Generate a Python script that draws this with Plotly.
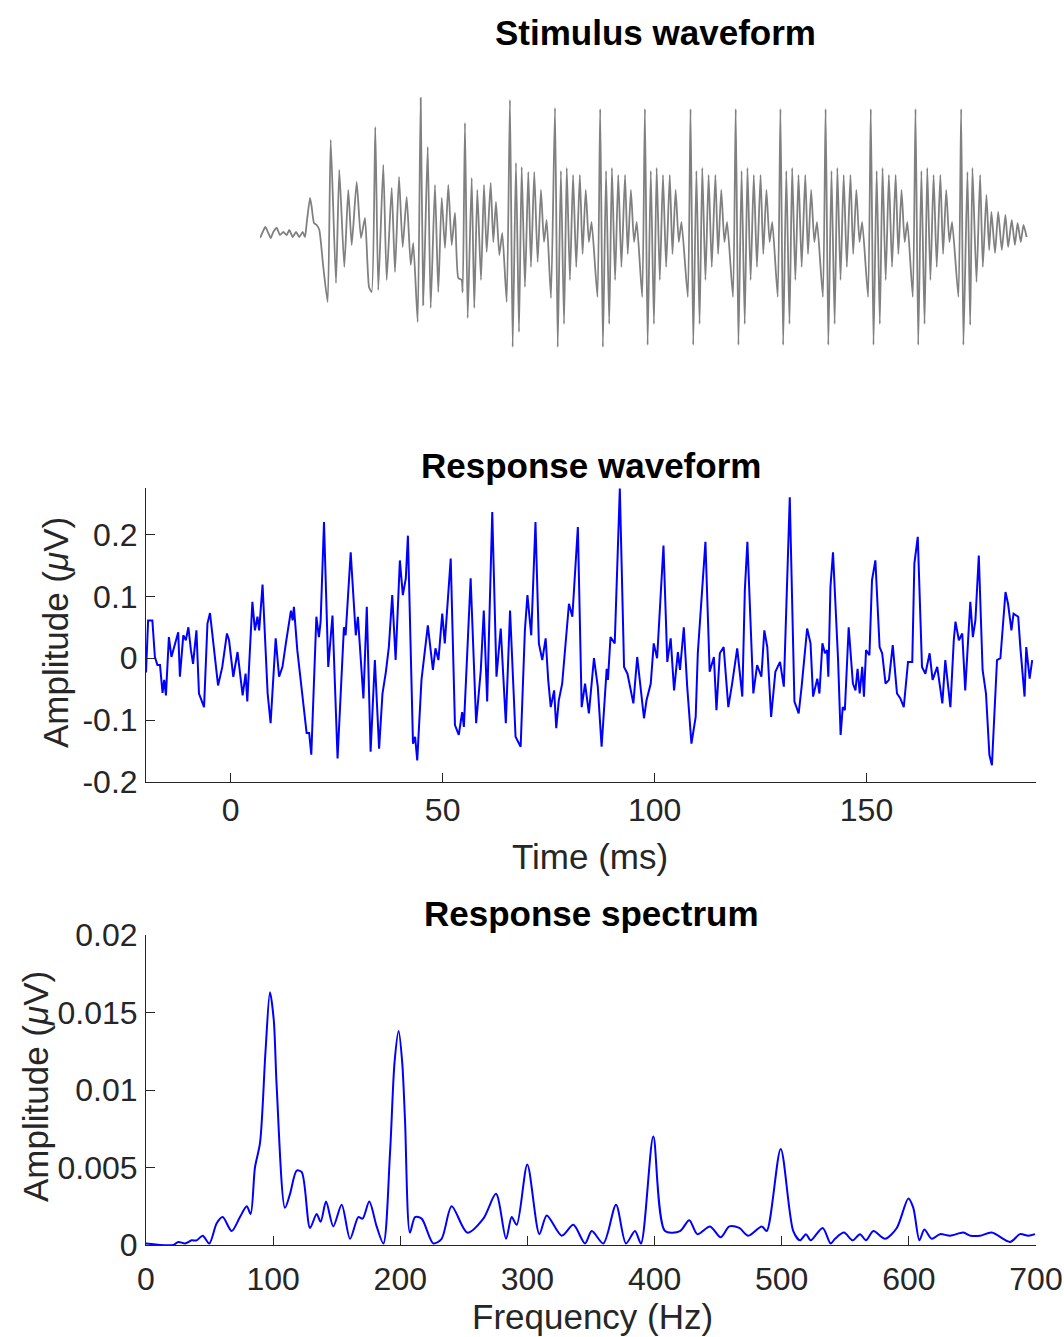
import plotly.graph_objects as go

# ---------------- data ----------------
# Stimulus waveform (time in ms, amplitude in arbitrary units)
stim_t = [0.0, 0.6, 1.17, 1.84, 2.37, 2.94, 3.7, 4.43, 5.16, 5.91, 6.49, 7.24, 7.97, 8.7, 9.45, 9.96,
          10.34, 11.07, 11.44, 11.95, 12.55, 13.13, 14.01, 14.98,
          15.65, 16.82, 17.55, 18.66, 19.54, 20.3, 21.4, 22.35, 23.24, 24.13, 24.72,
          25.52, 26.18, 27.29, 28.04, 29.15, 29.88, 30.77, 31.58, 32.47, 33.36, 33.93, 34.9,
          35.57, 36.14, 37.12, 37.78, 38.73, 39.46, 40.22, 40.95, 41.68, 42.43, 43.16, 43.89, 44.64, 44.87,
          45.37, 45.97, 46.86, 47.43, 48.1, 48.92, 49.58, 50.18, 51.06, 51.64, 52.24, 52.97, 53.63, 54.61,
          55.33, 55.93, 56.66, 57.33, 57.92, 58.65, 59.39, 59.98, 60.71, 61.46, 62.19, 62.86, 63.46, 64.41,
          65.3, 65.9, 66.6, 67.3, 67.9, 68.6, 69.3, 70.0, 70.8, 71.4, 72.1, 72.8, 73.4, 74.7,
          75.3, 75.9, 76.6, 77.3, 77.9, 78.6, 79.3, 80.0, 80.8, 81.4, 82.1, 82.8, 83.4, 84.6,
          85.2, 85.8, 86.5, 87.2, 87.8, 88.5, 89.2, 89.9, 90.7, 91.3, 92.0, 92.7, 93.3, 94.7,
          95.3, 95.9, 96.6, 97.3, 97.9, 98.6, 99.3, 100.0, 100.8, 101.4, 102.1, 102.8, 103.4, 104.7,
          105.3, 105.9, 106.6, 107.3, 107.9, 108.6, 109.3, 110.0, 110.8, 111.4, 112.1, 112.8, 113.4, 114.6,
          115.2, 115.8, 116.5, 117.2, 117.8, 118.5, 119.2, 119.9, 120.7, 121.3, 122.0, 122.7, 123.3, 124.6,
          125.2, 125.8, 126.5, 127.2, 127.8, 128.5, 129.2, 129.9, 130.7, 131.3, 132.0, 132.7, 133.3, 134.6,
          135.2, 135.8, 136.5, 137.2, 137.8, 138.5, 139.2, 139.9, 140.7, 141.3, 142.0, 142.7, 143.3, 144.5,
          145.1, 145.7, 146.4, 147.1, 147.7, 148.4, 149.1, 149.8, 150.6, 151.2, 151.9, 152.6, 153.2, 154.6,
          155.2, 155.7, 156.6, 157.2, 157.7, 158.6, 159.4, 160.0,
          160.8, 161.4, 161.9, 162.7, 163.4, 164.2, 165.0, 165.6, 166.4, 167.1, 167.7, 168.4, 169.0, 169.7]
stim_a = [-0.05, 0.01, 0.06, 0.0, -0.05, 0.01, 0.05, -0.02, 0.01, -0.02, 0.03, -0.04, 0.01, -0.04, 0.01, -0.04,
          0.10, 0.35, 0.26, 0.10, 0.08, 0.03, -0.34, -0.69,
          0.93, -0.50, 0.63, -0.34, 0.43, -0.12, 0.51, -0.05, 0.15, -0.54, -0.59,
          1.06, -0.57, 0.68, -0.47, 0.45, -0.39, 0.56, -0.14, 0.36, -0.32, -0.10, -0.89,
          1.35, -0.72, 0.86, -0.75, 0.48, -0.59, 0.35, -0.15, 0.48, -0.12, 0.20, -0.45, -0.47, -0.59,
          1.10, -0.85, 0.55, -0.75, 0.43, -0.47, 0.48, -0.19, 0.50, -0.09, 0.31, -0.22, 0.0, -0.69,
          1.33, -1.14, 0.70, -0.99, 0.66, -0.54, 0.61, -0.34, 0.61, -0.29, 0.43, -0.09, 0.13, -0.65,
          1.25, -1.14, 0.62, -0.91, 0.65, -0.47, 0.58, -0.34, 0.58, -0.21, 0.43, -0.09, 0.11, -0.64,
          1.24, -1.14, 0.62, -0.91, 0.65, -0.47, 0.58, -0.34, 0.58, -0.21, 0.43, -0.09, 0.11, -0.64,
          1.24, -1.12, 0.62, -0.91, 0.65, -0.47, 0.58, -0.34, 0.58, -0.21, 0.43, -0.09, 0.11, -0.64,
          1.24, -1.12, 0.62, -0.91, 0.65, -0.47, 0.58, -0.34, 0.58, -0.21, 0.43, -0.09, 0.11, -0.64,
          1.24, -1.12, 0.62, -0.91, 0.65, -0.47, 0.58, -0.34, 0.58, -0.21, 0.43, -0.09, 0.11, -0.64,
          1.24, -1.12, 0.62, -0.91, 0.65, -0.47, 0.58, -0.34, 0.58, -0.21, 0.43, -0.09, 0.11, -0.64,
          1.24, -1.12, 0.62, -0.91, 0.65, -0.47, 0.58, -0.34, 0.58, -0.21, 0.43, -0.09, 0.11, -0.64,
          1.24, -1.12, 0.62, -0.91, 0.65, -0.47, 0.58, -0.34, 0.58, -0.21, 0.43, -0.09, 0.11, -0.64,
          1.24, -1.12, 0.62, -0.91, 0.65, -0.47, 0.58, -0.34, 0.58, -0.21, 0.43, -0.09, 0.11, -0.64,
          1.24, -1.12, 0.61, -0.92, 0.65, -0.49, 0.58, -0.34,
          0.38, -0.17, 0.21, -0.20, 0.21, -0.17, 0.18, -0.14, 0.13, -0.12, 0.10, -0.09, 0.08, -0.04]

# Response waveform (time in ms, amplitude in microvolts)
resp_t = [-20.0, -19.5, -18.5, -17.9, -17.3, -16.7, -16.1, -15.7, -15.3, -14.6, -14.0, -13.4, -12.4, -12.0,
          -11.2, -10.6, -10.0, -9.4, -8.9, -8.1, -7.5, -6.3, -5.5, -4.9, -4.3, -3.3, -3.0, -2.0, -0.9, -0.4,
          0.6, 1.6, 2.8, 3.5, 3.9, 5.1, 5.7, 6.3, 6.7, 7.5, 8.7, 9.4, 10.6, 11.4, 12.2, 13.0, 14.2, 14.6,
          14.9, 15.7, 17.3, 17.9, 18.5, 19.0, 20.2, 20.8, 21.2, 22.0, 23.0, 24.0, 25.2, 26.7, 27.1, 28.3,
          28.7, 29.5, 30.0, 31.3, 32.1, 33.0, 34.0, 35.0, 35.8, 36.6, 37.3, 38.1, 38.9, 39.9, 40.6, 41.3,
          41.8, 43.0, 43.5, 44.0, 45.0, 45.8, 46.5, 47.7, 48.3, 49.0, 49.9, 50.5, 51.9, 52.9, 53.8, 54.6,
          55.0, 56.6, 57.9, 59.0, 59.7, 60.5, 61.7, 62.7, 63.7, 64.9, 65.9, 67.2, 68.4, 69.4, 70.0, 70.9,
          71.9, 72.7, 73.5, 74.3, 74.9, 75.5, 76.3, 76.8, 77.4, 78.2, 79.8, 80.6, 81.9, 82.8, 83.6, 84.5,
          85.7, 86.6, 87.5, 88.7, 89.0, 89.6, 90.6, 91.8, 92.8, 93.6, 94.3, 95.0, 95.9, 96.7, 97.5, 98.1,
          99.1, 99.8, 100.6, 102.1, 103.0, 103.8, 104.6, 105.5, 106.0, 106.9, 107.7, 108.7, 109.7, 110.2,
          112.0, 113.0, 114.0, 114.6, 115.4, 116.3, 117.4, 118.3, 119.5, 120.7, 121.3, 121.9, 123.3, 124.2,
          125.2, 125.9, 126.6, 127.5, 128.5, 129.6, 130.5, 131.9, 133.0, 134.0, 134.7, 136.0, 136.8, 137.4,
          138.4, 138.9, 139.6, 140.2, 140.7, 141.0, 141.5, 142.1, 142.7, 143.3, 143.9, 144.4, 144.9, 145.8,
          146.8, 147.4, 147.9, 148.4, 149.0, 149.4, 149.9, 150.7, 151.3, 152.1, 153.1, 153.7, 154.5, 155.3,
          156.2, 156.8, 157.2, 158.0, 158.8, 159.8, 160.8, 161.3, 162.1, 163.1, 163.9, 164.9, 165.6, 166.7,
          167.9, 168.6, 169.8, 170.6, 171.0, 171.8, 172.6, 173.3, 174.5, 175.1, 175.7, 176.5, 177.4, 178.2,
          179.0, 179.6, 180.8, 181.6, 182.8, 183.4, 184.2, 184.7, 185.8, 186.3, 187.3, 187.7, 188.5, 189.1]
resp_v = [-0.023, 0.061, 0.061, 0.002, -0.011, -0.011, -0.056, -0.035, -0.060, 0.034, 0.002, 0.016, 0.042, -0.030,
          0.037, 0.029, 0.050, 0.013, -0.009, 0.045, -0.057, -0.079, 0.056, 0.073, 0.034, -0.035, -0.044, -0.014, 0.040, 0.029,
          -0.030, 0.010, -0.060, -0.025, -0.070, 0.091, 0.045, 0.067, 0.045, 0.119, -0.057, -0.105, 0.032, -0.030, -0.014, 0.024, 0.077, 0.061,
          0.083, 0.013, -0.089, -0.121, -0.121, -0.156, 0.067, 0.034, 0.059, 0.220, -0.014, 0.069, -0.162, 0.050, 0.037, 0.171,
          0.126, 0.037, 0.067, -0.065, 0.083, -0.151, -0.003, -0.146, -0.057, -0.022, 0.018, 0.102, -0.003, 0.158, 0.102, 0.129,
          0.198, -0.138, -0.127, -0.165, -0.035, 0.016, 0.053, -0.019, 0.016, -0.003, 0.072, 0.024, 0.161, -0.108, -0.124, -0.087,
          -0.111, 0.129, -0.105, -0.019, 0.077, -0.070, 0.236, -0.030, 0.048, -0.105, 0.077, -0.127, -0.143, 0.045, 0.102, 0.037,
          0.220, 0.024, -0.003, 0.032, -0.035, -0.079, -0.052, -0.113, -0.068, -0.041, 0.088, 0.067, 0.212, -0.079, -0.041, -0.089,
          0.000, -0.046, -0.143, -0.017, -0.035, 0.034, 0.024, 0.274, -0.014, -0.025, -0.052, -0.073, 0.002, -0.046, -0.097, -0.068,
          -0.041, 0.024, 0.000, 0.182, -0.006, 0.032, -0.052, 0.010, -0.019, 0.050, -0.046, -0.138, -0.095, 0.008,
          0.188, -0.022, 0.002, -0.084, 0.008, 0.018, -0.079, -0.041, 0.016, -0.062, 0.110, 0.188, -0.057, -0.011,
          -0.030, 0.045, 0.018, -0.095, -0.022, -0.006, -0.046, 0.260, -0.070, -0.089, -0.046, 0.048, 0.024, -0.062,
          -0.033, -0.057, 0.024, 0.008, 0.013, -0.030, 0.115, 0.171, 0.083, -0.003, -0.124, -0.079, -0.084, 0.050,
          -0.041, -0.052, -0.017, -0.057, -0.014, -0.062, 0.013, 0.005, 0.126, 0.158, 0.018, 0.008, -0.041, -0.035,
          0.021, -0.035, -0.057, -0.065, -0.079, -0.006, -0.006, 0.153, 0.196, -0.014, -0.025, 0.008, -0.035, -0.014,
          -0.073, -0.003, -0.079, 0.029, 0.059, 0.029, 0.040, -0.052, 0.091, 0.034, 0.061, 0.166, -0.019, -0.057,
          -0.156, -0.173, -0.003, 0.000, 0.107, 0.088, 0.045, 0.072, 0.067, 0.018, -0.062, 0.018, -0.033, -0.003]

# Response spectrum (frequency in Hz, amplitude in microvolts)
spec_f = [0, 21.5, 25.4, 30.7, 35.9, 39.8, 44.6, 49.8, 55.6, 60.3, 67.4, 73.9, 79.2, 82.3, 85.7, 89.7,
          94.0, 97.5, 100.5, 102.8, 109.3, 113.3, 118.5, 122.5, 129.0, 134.2, 137.4, 141.6, 147.3, 153.9,
          160.5, 167.0, 170.4, 175.6, 181.4, 186.7, 191.9, 195.5, 198.7, 201.5, 203.7, 207.6, 211.6, 216.8,
          226.0, 232.5, 240.4, 252.7, 265.3, 275.3, 283.2, 287.6, 291.6, 299.9, 309.4, 315.2, 327.0, 336.1,
          345.3, 350.6, 359.7, 369.7, 377.5, 384.6, 389.3, 399.0, 408.2, 420.0, 427.3, 433.6, 443.6, 452.0,
          458.8, 466.6, 473.7, 484.3, 488.2, 499.2, 509.1, 514.4, 519.1, 522.8, 532.2, 538.5, 541.9, 549.0,
          555.8, 561.6, 566.3, 572.1, 581.3, 590.5, 599.6, 603.5, 608.3, 612.2, 618.0, 624.5, 632.4, 642.8,
          648.6, 656.0, 665.2, 679.6, 687.4, 694.0, 699.2]
spec_a = [0.0001, 0.0, 0.0002, 0.0001, 0.0003, 0.0003, 0.0006, 0.0001, 0.0014, 0.0018, 0.0009, 0.0018, 0.0025, 0.0020, 0.0050, 0.0066,
          0.0125, 0.0163, 0.0145, 0.0102, 0.0024, 0.0033, 0.0048, 0.0047, 0.0011, 0.0020, 0.0015, 0.0028, 0.0012, 0.0026,
          0.0004, 0.0018, 0.0017, 0.0028, 0.0012, 0.0001, 0.0059, 0.0118, 0.0138, 0.0118, 0.0081, 0.0008, 0.0018, 0.0017,
          0.0001, 0.0004, 0.0025, 0.0008, 0.0017, 0.0033, 0.0004, 0.0018, 0.0013, 0.0052, 0.0007, 0.0019, 0.0006, 0.0013,
          0.0001, 0.0009, 0.0001, 0.0026, 0.0001, 0.0009, 0.0001, 0.0070, 0.0009, 0.0009, 0.0016, 0.0007, 0.0012, 0.0005,
          0.0012, 0.0011, 0.0006, 0.0012, 0.0009, 0.0062, 0.0009, 0.0003, 0.0007, 0.0003, 0.0011, 0.0001, 0.0004, 0.0008,
          0.0003, 0.0007, 0.0003, 0.0009, 0.0004, 0.0011, 0.0030, 0.0024, 0.0003, 0.0010, 0.0004, 0.0007, 0.0006, 0.0008,
          0.0006, 0.0006, 0.0008, 0.0002, 0.0007, 0.0006, 0.0007]

resp_xticks = [0, 50, 100, 150]
resp_yticks = [-0.2, -0.1, 0, 0.1, 0.2]
resp_yticktext = ["-0.2", "-0.1", "0", "0.1", "0.2"]
spec_xticks = [0, 100, 200, 300, 400, 500, 600, 700]
spec_yticks = [0, 0.005, 0.01, 0.015, 0.02]
spec_yticktext = ["0", "0.005", "0.01", "0.015", "0.02"]

# ---------------- figure ----------------
W, H = 1064, 1337
FONT = "Liberation Sans, Arial, Helvetica, sans-serif"
AX = "#262626"

def fx(p):
    return p / W

def fy(p):
    return 1 - p / H

fig = go.Figure()
fig.add_trace(go.Scatter(x=stim_t, y=stim_a, mode="lines", xaxis="x", yaxis="y",
                         line=dict(color="#808080", width=1.8, shape="spline", smoothing=0.5),
                         hoverinfo="skip"))
fig.add_trace(go.Scatter(x=resp_t, y=resp_v, mode="lines", xaxis="x2", yaxis="y2",
                         line=dict(color="#0000ff", width=2)))
fig.add_trace(go.Scatter(x=spec_f, y=spec_a, mode="lines", xaxis="x3", yaxis="y3",
                         line=dict(color="#0000ff", width=2, shape="spline", smoothing=0.8)))

common_axis = dict(showline=True, linecolor=AX, linewidth=1, ticks="inside", ticklen=9,
                   tickcolor=AX, tickwidth=1, showgrid=False, zeroline=False, mirror=False,
                   automargin=False, tickfont=dict(family=FONT, size=32, color=AX))

fig.update_layout(
    width=W, height=H, autosize=False,
    margin=dict(l=0, r=0, t=0, b=0, pad=0, autoexpand=False),
    paper_bgcolor="white", plot_bgcolor="white", showlegend=False,
    font=dict(family=FONT, color=AX),
    xaxis=dict(domain=[fx(260), fx(1028)], range=[0, 170], visible=False, anchor="y"),
    yaxis=dict(domain=[fy(360), fy(90)], range=[-1.27, 1.43], visible=False, anchor="x"),
    xaxis2=dict(domain=[fx(146), fx(1036)], range=[-20, 190], anchor="y2",
                tickvals=resp_xticks, ticklabelstandoff=0, **common_axis),
    yaxis2=dict(domain=[fy(782), fy(488)], range=[-0.2, 0.275], anchor="x2",
                tickvals=resp_yticks, ticktext=resp_yticktext, ticklabelstandoff=1, **common_axis),
    xaxis3=dict(domain=[fx(146), fx(1036)], range=[0, 700], anchor="y3",
                tickvals=spec_xticks, ticklabelstandoff=6, **common_axis),
    yaxis3=dict(domain=[fy(1245), fy(935)], range=[0, 0.02], anchor="x3",
                tickvals=spec_yticks, ticktext=spec_yticktext, ticklabelstandoff=1, **common_axis),
)

def note(text, x, y, size=35, bold=False, angle=0):
    fig.add_annotation(text=f"<b>{text}</b>" if bold else text, x=fx(x), y=fy(y),
                       xref="paper", yref="paper", xanchor="center", yanchor="middle",
                       showarrow=False, textangle=angle,
                       font=dict(family=FONT, size=size, color="black" if bold else AX))

note("Stimulus waveform", 655, 32, bold=True)
note("Response waveform", 591, 465, bold=True)
note("Response spectrum", 591, 913, bold=True)
note("Time (ms)", 590, 856)
note("Frequency (Hz)", 592, 1316)
note("Amplitude (<i>μ</i>V)", 55, 633, angle=-90)
note("Amplitude (<i>μ</i>V)", 35, 1087, angle=-90)

fig.write_html("out.html", config={"responsive": False, "displayModeBar": False},
               post_script="document.body.style.margin='0px';document.body.style.overflow='hidden';")
